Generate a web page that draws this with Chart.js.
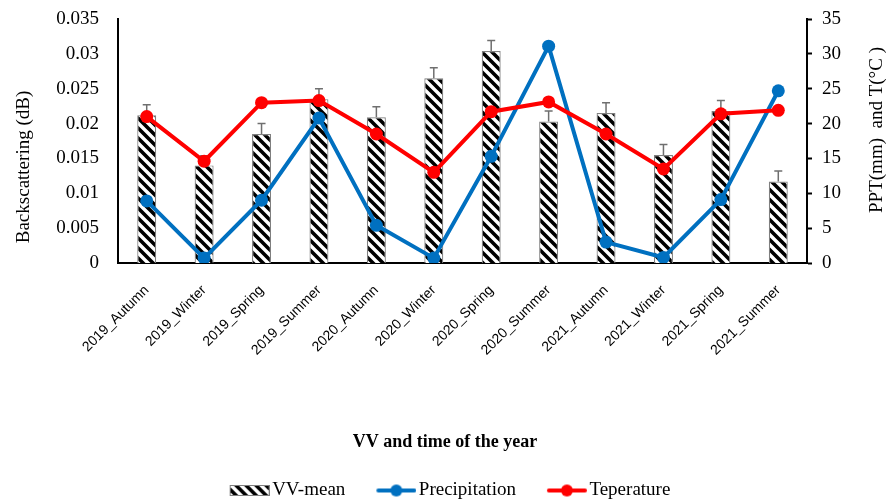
<!DOCTYPE html>
<html>
<head>
<meta charset="utf-8">
<script src="https://cdn.jsdelivr.net/npm/chart.js@4.4.1/dist/chart.umd.min.js"></script>
<style>
  html, body { margin: 0; padding: 0; background: #ffffff; }
  #wrap { width: 895px; height: 500px; }
</style>
</head>
<body>
<div id="wrap"><canvas id="c" width="895" height="500"></canvas></div>
<script>
// Seasons on the x axis
const seasons = ['2019_Autumn', '2019_Winter', '2019_Spring', '2019_Summer',
                 '2020_Autumn', '2020_Winter', '2020_Spring', '2020_Summer',
                 '2021_Autumn', '2021_Winter', '2021_Spring', '2021_Summer'];

// VV backscattering mean (left axis) and its error
const vvMean = [0.0212, 0.0140, 0.0185, 0.0235, 0.0209, 0.0265,
                0.0304, 0.0203, 0.0215, 0.0155, 0.0218, 0.0117];
const vvErr  = [0.0015, 0.0014, 0.0015, 0.0015, 0.0015, 0.0015,
                0.0015, 0.0015, 0.0015, 0.0015, 0.0015, 0.0015];

// Precipitation (mm) and temperature (°C), right axis
const precipitation = [8.9, 0.7, 9.0, 20.8, 5.4, 0.7, 15.3, 31.1, 3.0, 0.8, 9.1, 24.7];
const temperature   = [21.0, 14.6, 23.0, 23.3, 18.5, 13.0, 21.7, 23.1, 18.5, 13.5, 21.4, 21.9];

// Tick labels
const leftTickLabels  = ['0', '0.005', '0.01', '0.015', '0.02', '0.025', '0.03', '0.035'];
const rightTickLabels = ['0', '5', '10', '15', '20', '25', '30', '35'];

const BLUE = '#0070C0';
const RED = '#FF0000';
const SERIF = '"Liberation Serif", "Times New Roman", serif';

// Diagonal hatch used to fill the bars
function makeHatch() {
  const s = 10;
  const cv = document.createElement('canvas');
  cv.width = s; cv.height = s;
  const g = cv.getContext('2d');
  g.fillStyle = '#ffffff';
  g.fillRect(0, 0, s, s);
  g.strokeStyle = '#000000';
  g.lineWidth = 3.6;
  g.lineCap = 'square';
  g.beginPath();
  g.moveTo(-2, -2); g.lineTo(s + 2, s + 2);
  g.moveTo(-2, s - 2); g.lineTo(2, s + 2);
  g.moveTo(s - 2, -2); g.lineTo(s + 2, 2);
  g.stroke();
  return g.createPattern(cv, 'repeat');
}
const hatch = makeHatch();

// Legend glyphs: 74px wide canvas, visible symbol in its right 40px
function barGlyph() {
  const cv = document.createElement('canvas');
  cv.width = 74; cv.height = 11;
  const g = cv.getContext('2d');
  g.fillStyle = hatch;
  g.fillRect(34, 0, 40, 11);
  g.strokeStyle = '#7f7f7f';
  g.lineWidth = 1;
  g.strokeRect(34.5, 0.5, 39, 10);
  return cv;
}
function lineGlyph(color) {
  const cv = document.createElement('canvas');
  cv.width = 74; cv.height = 14;
  const g = cv.getContext('2d');
  g.strokeStyle = color;
  g.lineWidth = 4;
  g.lineCap = 'round';
  g.beginPath(); g.moveTo(36, 7); g.lineTo(72, 7); g.stroke();
  g.fillStyle = color;
  g.beginPath(); g.arc(54, 7, 6, 0, Math.PI * 2); g.fill();
  return cv;
}

// Error bars on top of the VV bars
const errorBars = {
  id: 'errorBars',
  afterDatasetDraw(chart, args) {
    if (args.index !== 0) return;
    const ctx = chart.ctx;
    const y = chart.scales.y;
    ctx.save();
    ctx.strokeStyle = '#6f6f6f';
    ctx.lineWidth = 1.5;
    args.meta.data.forEach((bar, i) => {
      const top = y.getPixelForValue(vvMean[i] + vvErr[i]);
      ctx.beginPath();
      ctx.moveTo(bar.x, bar.y);
      ctx.lineTo(bar.x, top);
      ctx.moveTo(bar.x - 4, top);
      ctx.lineTo(bar.x + 4, top);
      ctx.stroke();
    });
    ctx.restore();
  }
};

// Axis titles (both vertical titles read bottom to top)
const axisTitles = {
  id: 'axisTitles',
  afterDraw(chart, args, opts) {
    const ctx = chart.ctx;
    opts.items.forEach(t => {
      ctx.save();
      ctx.font = t.font;
      ctx.fillStyle = '#000';
      ctx.textAlign = 'center';
      ctx.textBaseline = 'middle';
      ctx.translate(t.x, t.y);
      ctx.rotate(t.rotation || 0);
      ctx.fillText(t.text, 0, 0);
      ctx.restore();
    });
  }
};

// Vertical axes: no extra label padding above/below the plot
function noEdgePadding(scale) {
  scale.paddingTop = 0;
  scale.paddingBottom = 0;
}

new Chart(document.getElementById('c'), {
  data: {
    labels: seasons,
    datasets: [
      {
        type: 'bar', label: 'VV-mean', data: vvMean, yAxisID: 'y', order: 3,
        backgroundColor: hatch, borderColor: '#7f7f7f', borderWidth: 1.2,
        categoryPercentage: 1, barPercentage: 0.33
      },
      {
        type: 'line', label: 'Precipitation', data: precipitation, yAxisID: 'y1', order: 2,
        borderColor: BLUE, backgroundColor: BLUE, borderWidth: 4, tension: 0,
        pointRadius: 6.5, pointHoverRadius: 6.5, pointBorderWidth: 0
      },
      {
        type: 'line', label: 'Teperature', data: temperature, yAxisID: 'y1', order: 1,
        borderColor: RED, backgroundColor: RED, borderWidth: 4, tension: 0,
        pointRadius: 6.5, pointHoverRadius: 6.5, pointBorderWidth: 0
      }
    ]
  },
  options: {
    responsive: false,
    animation: false,
    devicePixelRatio: 1,
    layout: { padding: { top: 19, left: 0, right: 22, bottom: -10 } },
    plugins: {
      tooltip: { enabled: false },
      axisTitles: {
        items: [
          { text: 'Backscattering (dB)', x: 24, y: 167, rotation: -Math.PI / 2, font: '19px ' + SERIF },
          { text: 'PPT(mm)  and T(°C )', x: 877, y: 130, rotation: -Math.PI / 2, font: '19px ' + SERIF },
          { text: 'VV and time of the year', x: 445, y: 442, rotation: 0, font: 'bold 18px ' + SERIF }
        ]
      },
      legend: {
        position: 'bottom',
        labels: {
          usePointStyle: true,
          pointStyleWidth: 60,
          padding: 4,
          color: '#000',
          font: { family: SERIF, size: 19 },
          generateLabels: () => [
            { text: 'VV-mean', pointStyle: barGlyph(), datasetIndex: 0, fontColor: '#000', lineWidth: 0, strokeStyle: 'transparent' },
            { text: 'Precipitation', pointStyle: lineGlyph(BLUE), datasetIndex: 1, fontColor: '#000', lineWidth: 0, strokeStyle: 'transparent' },
            { text: 'Teperature', pointStyle: lineGlyph(RED), datasetIndex: 2, fontColor: '#000', lineWidth: 0, strokeStyle: 'transparent' }
          ]
        }
      }
    },
    scales: {
      x: {
        grid: { display: false, drawTicks: false },
        border: { display: true, color: '#000', width: 2 },
        ticks: {
          color: '#000', minRotation: 45, maxRotation: 45, padding: 19,
          font: { family: '"Liberation Sans", Arial, sans-serif', size: 14 }
        },
        afterFit(scale) { scale.height = 214; }
      },
      y: {
        position: 'left', min: 0, max: 0.035,
        grid: { display: false, drawTicks: false },
        border: { display: true, color: '#000', width: 2 },
        ticks: {
          stepSize: 0.005, color: '#000', padding: 19,
          font: { family: SERIF, size: 19 },
          callback: (v, i) => leftTickLabels[i]
        },
        afterFit(scale) { scale.width = 118; noEdgePadding(scale); }
      },
      y1: {
        position: 'right', min: 0, max: 35,
        grid: { drawOnChartArea: false, drawTicks: true, tickLength: 5, color: '#000', tickWidth: 2 },
        border: { display: true, color: '#000', width: 2 },
        ticks: {
          stepSize: 5, color: '#000', padding: 10,
          font: { family: SERIF, size: 19 },
          callback: (v, i) => rightTickLabels[i]
        },
        afterFit(scale) { scale.width = 66; noEdgePadding(scale); }
      }
    }
  },
  plugins: [errorBars, axisTitles]
});
</script>
</body>
</html>
